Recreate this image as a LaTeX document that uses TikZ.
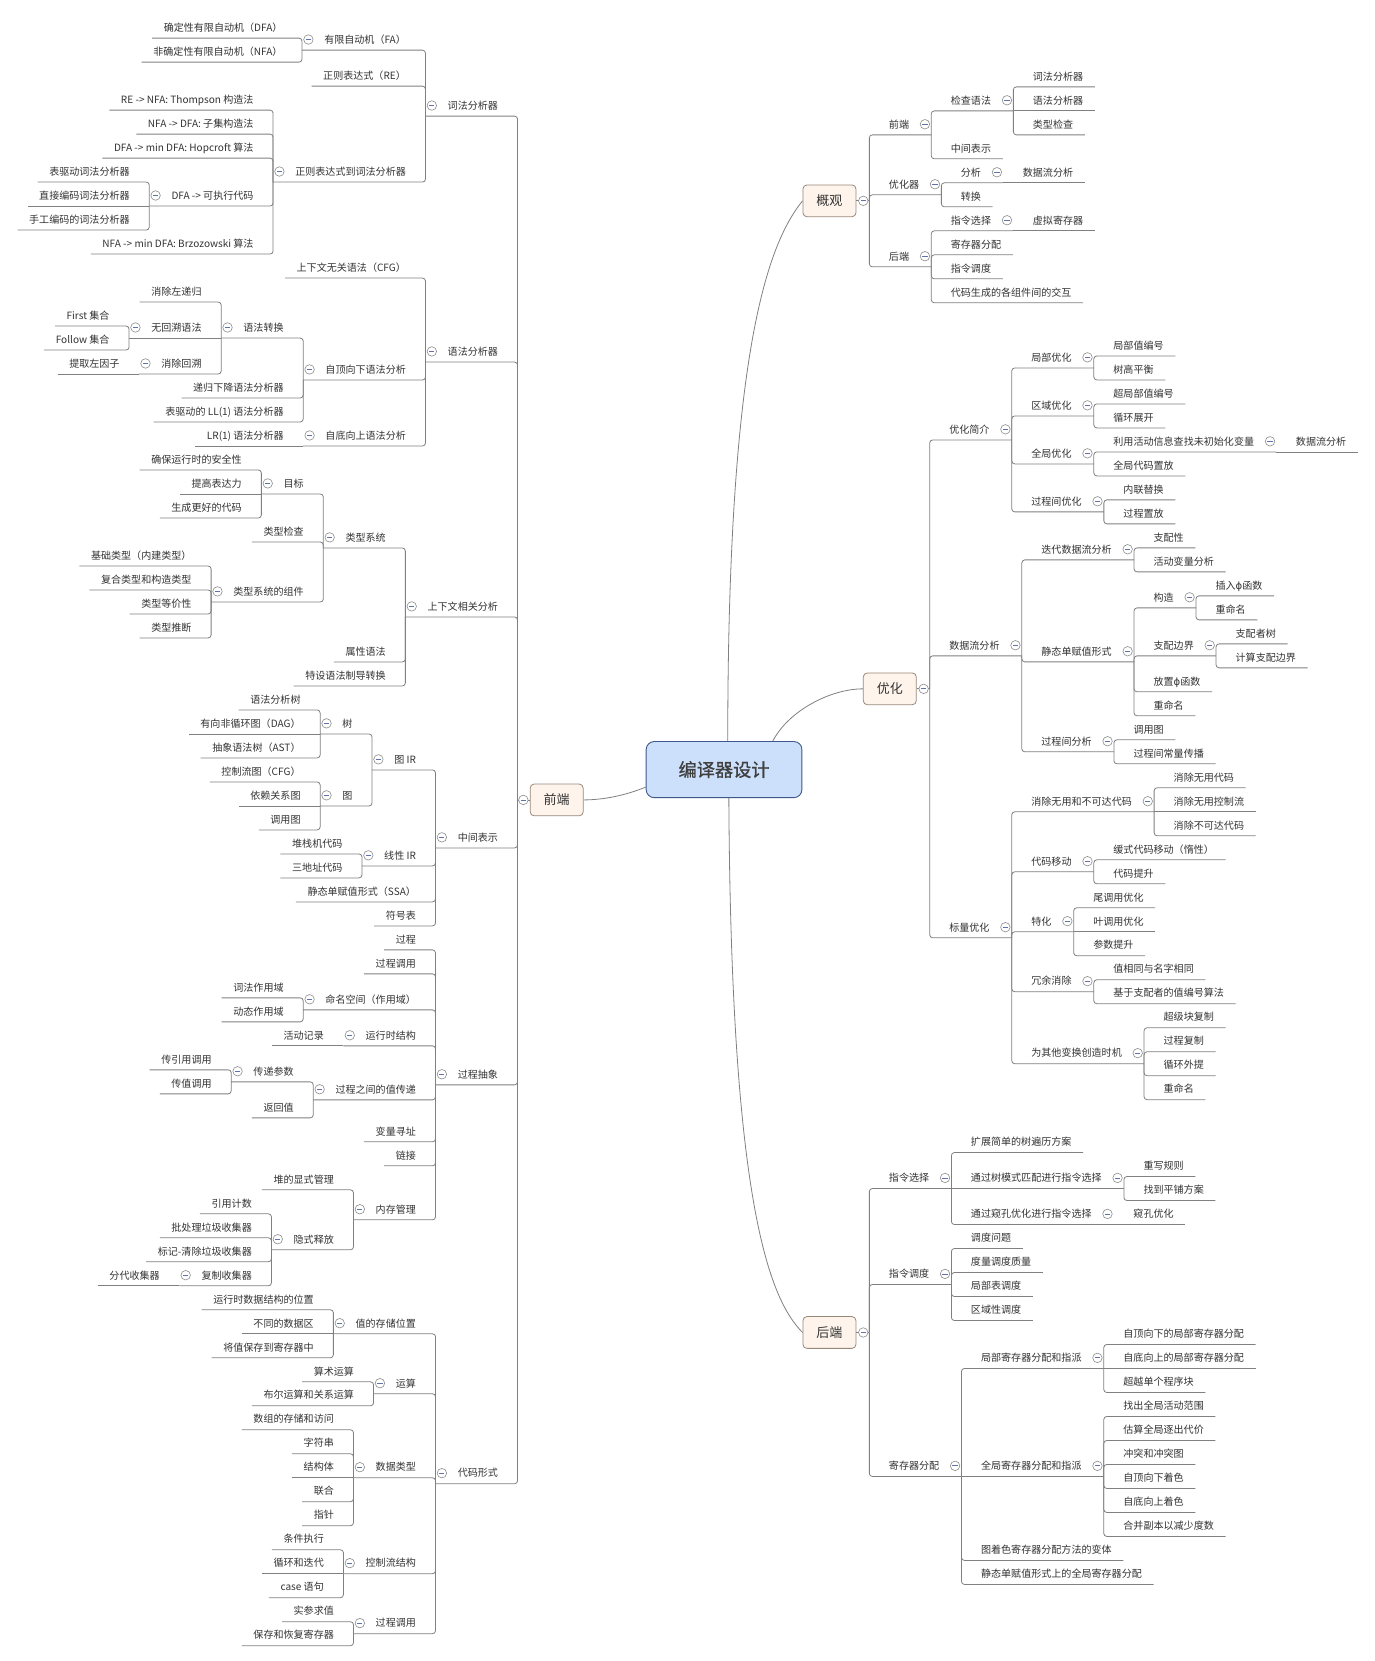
\documentclass[tikz,border=0pt]{standalone}
\usepackage{fontspec}
\setmainfont{Noto Sans CJK SC}
\newfontfamily\phifont{DejaVu Sans}
\newfontfamily\rootfont[FakeBold=1]{Noto Sans CJK SC}
\definecolor{linec}{RGB}{128,128,128}
\definecolor{textc}{RGB}{51,51,51}
\definecolor{rootfill}{RGB}{204,224,252}
\definecolor{rootdraw}{RGB}{62,88,138}
\definecolor{lonefill}{RGB}{254,244,236}
\definecolor{lonedraw}{RGB}{152,136,122}
\definecolor{iconc}{RGB}{95,115,170}
\definecolor{iconb}{RGB}{140,140,140}
\tikzset{
  conn/.style={draw=linec, line width=0.8pt, rounded corners=3pt},
  rootconn/.style={draw=linec, line width=0.8pt},
  txt/.style={inner sep=0pt, outer sep=0pt, text height=8pt, text depth=6.78pt, text=textc, font=\fontsize{10.05}{12}\selectfont},
  icon/.style={circle, draw=iconb, fill=white, line width=0.6pt, minimum size=9.5pt, inner sep=0pt,
    path picture={\draw[iconc, line width=0.8pt] ([xshift=-2.6pt]path picture bounding box.center) -- ([xshift=2.6pt]path picture bounding box.center);}},
  lonebox/.style={draw=lonedraw, fill=lonefill, rounded corners=4pt, line width=0.8pt, minimum width=53pt, minimum height=31.8pt, inner sep=0pt, text=textc, font=\fontsize{13}{15}\selectfont},
  rootbox/.style={draw=rootdraw, fill=rootfill, rounded corners=8pt, line width=0.9pt, minimum width=155.7pt, minimum height=56.1pt, inner sep=0pt, text={rgb,255:red,64;green,64;blue,64}, font=\rootfont\fontsize{18.2}{20}\selectfont},
}
\def\rowbase{26}
% left leaf (corner)
\newcommand\mmLA[4]{%
  \coordinate (tmp) at (0,{\rowbase+22.65*(#3)});
  \path (#2V |- tmp) ++(-18.5,3.6) node[txt,anchor=base east] (#1) {#4};
  \draw[conn] (#2V) |- ([xshift=-11.65pt]#1.south west);
}
% left leaf (straight)
\newcommand\mmLB[4]{%
  \coordinate (tmp) at (0,{\rowbase+22.65*(#3)});
  \path (#2V |- tmp) ++(-18.5,3.6) node[txt,anchor=base east] (#1) {#4};
  \draw[conn] (#2V) -- ([xshift=-11.65pt]#1.south west);
}
% left parent (corner)
\newcommand\mmLC[4]{%
  \coordinate (tmp) at (0,{\rowbase+22.65*(#3)});
  \path (#2V |- tmp) ++(-18.5,3.6) node[txt,anchor=base east] (#1) {#4};
  \coordinate (#1V) at ([xshift=-22.25pt]#1.south west);
  \draw[conn] (#2V) |- (#1V);
  \node[icon] at ([xshift=6.36pt,yshift=10.59pt]#1V) {};
}
% left parent (straight)
\newcommand\mmLD[4]{%
  \coordinate (tmp) at (0,{\rowbase+22.65*(#3)});
  \path (#2V |- tmp) ++(-18.5,3.6) node[txt,anchor=base east] (#1) {#4};
  \coordinate (#1V) at ([xshift=-22.25pt]#1.south west);
  \draw[conn] (#2V) -- (#1V);
  \node[icon] at ([xshift=6.36pt,yshift=10.59pt]#1V) {};
}
% right leaf (corner)
\newcommand\mmRA[4]{%
  \coordinate (tmp) at (0,{\rowbase+22.65*(#3)});
  \path (#2V |- tmp) ++(18.5,3.6) node[txt,anchor=base west] (#1) {#4};
  \draw[conn] (#2V) |- ([xshift=11.65pt]#1.south east);
}
% right leaf (straight)
\newcommand\mmRB[4]{%
  \coordinate (tmp) at (0,{\rowbase+22.65*(#3)});
  \path (#2V |- tmp) ++(18.5,3.6) node[txt,anchor=base west] (#1) {#4};
  \draw[conn] (#2V) -- ([xshift=11.65pt]#1.south east);
}
% right parent (corner)
\newcommand\mmRC[4]{%
  \coordinate (tmp) at (0,{\rowbase+22.65*(#3)});
  \path (#2V |- tmp) ++(18.5,3.6) node[txt,anchor=base west] (#1) {#4};
  \coordinate (#1V) at ([xshift=22.25pt]#1.south east);
  \draw[conn] (#2V) |- (#1V);
  \node[icon] at ([xshift=-6.36pt,yshift=10.59pt]#1V) {};
}
% right parent (straight)
\newcommand\mmRD[4]{%
  \coordinate (tmp) at (0,{\rowbase+22.65*(#3)});
  \path (#2V |- tmp) ++(18.5,3.6) node[txt,anchor=base west] (#1) {#4};
  \coordinate (#1V) at ([xshift=22.25pt]#1.south east);
  \draw[conn] (#2V) -- (#1V);
  \node[icon] at ([xshift=-6.36pt,yshift=10.59pt]#1V) {};
}
\begin{document}
\begin{tikzpicture}[x=1.0593pt,y=-1.0593pt]
\fill[white] (0,0) rectangle (1298,1568);
\useasboundingbox (0,0) rectangle (1298,1568);

% central and main topics
\node[rootbox] (root) at (683.5,726.5) {编译器设计};
\node[lonebox] (qd) at (525.5,{26+22.65*31.75+10}) {前端};
\node[lonebox] (gg) at (783,{72+22.65*4.75+10}) {概观};
\node[lonebox] (yh) at (840,{326+22.65*13.875+10}) {优化};
\node[lonebox] (hd) at (783,{1078+22.65*7.5+10}) {后端};

\draw[rootconn] ([xshift=3.7pt]root.north) .. controls (687,330) and (725,230) .. (gg.west);
\draw[rootconn] ([xshift=48.7pt]root.north) .. controls (745,670) and (785,650.3) .. (yh.west);
\draw[rootconn] ([xshift=4.8pt]root.south) .. controls (690,1130) and (725,1225) .. (hd.west);
\draw[rootconn] ([yshift=-17.5pt]root.west) .. controls (590,751) and (570,755) .. (qd.east);

\coordinate (qdV) at ([xshift=-12.2pt]qd.west);
\draw[conn] (qd.west) -- (qdV);
\node[icon] at ([xshift=-6.4pt]qd.west) {};
\foreach \b in {gg,yh,hd}{
  \coordinate (\b V) at ([xshift=13pt]\b.east);
  \draw[conn] (\b.east) -- (\b V);
  \node[icon] at ([xshift=6.9pt]\b.east) {};
}

% ================= LEFT: 前端 =================
\def\rowbase{26}
\mmLC{lex}{qd}{3.25}{词法分析器}
\mmLC{fa}{lex}{0.5}{有限自动机（FA）}
\mmLA{dfa}{fa}{0}{确定性有限自动机（DFA）}
\mmLA{nfa}{fa}{1}{非确定性有限自动机（NFA）}
\mmLA{re}{lex}{2}{正则表达式（RE）}
\mmLC{retolex}{lex}{6}{正则表达式到词法分析器}
\mmLA{thom}{retolex}{3}{RE -> NFA: Thompson 构造法}
\mmLA{subset}{retolex}{4}{NFA -> DFA: 子集构造法}
\mmLA{hop}{retolex}{5}{DFA -> min DFA: Hopcroft 算法}
\mmLC{dfacode}{retolex}{7}{DFA -> 可执行代码}
\mmLA{tbl}{dfacode}{6}{表驱动词法分析器}
\mmLB{direct}{dfacode}{7}{直接编码词法分析器}
\mmLA{hand}{dfacode}{8}{手工编码的词法分析器}
\mmLA{brz}{retolex}{9}{NFA -> min DFA: Brzozowski 算法}

\mmLC{parse}{qd}{13.5}{语法分析器}
\mmLA{cfg}{parse}{10}{上下文无关语法（CFG）}
\mmLC{topdown}{parse}{14.25}{自顶向下语法分析}
\mmLC{gtrans}{topdown}{12.5}{语法转换}
\mmLA{leftrec}{gtrans}{11}{消除左递归}
\mmLD{nobt}{gtrans}{12.5}{无回溯语法}
\mmLA{first}{nobt}{12}{First 集合}
\mmLA{follow}{nobt}{13}{Follow 集合}
\mmLC{elimbt}{gtrans}{14}{消除回溯}
\mmLB{leftfac}{elimbt}{14}{提取左因子}
\mmLA{recdesc}{topdown}{15}{递归下降语法分析器}
\mmLA{llone}{topdown}{16}{表驱动的 LL(1) 语法分析器}
\mmLC{bottomup}{parse}{17}{自底向上语法分析}
\mmLB{lrone}{bottomup}{17}{LR(1) 语法分析器}

\mmLC{csa}{qd}{24.125}{上下文相关分析}
\mmLC{tsys}{csa}{21.25}{类型系统}
\mmLC{goal}{tsys}{19}{目标}
\mmLA{safe}{goal}{18}{确保运行时的安全性}
\mmLB{expr}{goal}{19}{提高表达力}
\mmLA{better}{goal}{20}{生成更好的代码}
\mmLA{tcheck}{tsys}{21}{类型检查}
\mmLC{tcomp}{tsys}{23.5}{类型系统的组件}
\mmLA{basic}{tcomp}{22}{基础类型（内建类型）}
\mmLA{compound}{tcomp}{23}{复合类型和构造类型}
\mmLA{tequiv}{tcomp}{24}{类型等价性}
\mmLA{tinfer}{tcomp}{25}{类型推断}
\mmLA{attr}{csa}{26}{属性语法}
\mmLA{adhoc}{csa}{27}{特设语法制导转换}

\mmLC{ir}{qd}{33.75}{中间表示}
\mmLC{gir}{ir}{30.5}{图 IR}
\mmLC{tree}{gir}{29}{树}
\mmLA{ptree}{tree}{28}{语法分析树}
\mmLB{dag}{tree}{29}{有向非循环图（DAG）}
\mmLA{ast}{tree}{30}{抽象语法树（AST）}
\mmLC{graph}{gir}{32}{图}
\mmLA{cfgr}{graph}{31}{控制流图（CFG）}
\mmLB{dep}{graph}{32}{依赖关系图}
\mmLA{callg}{graph}{33}{调用图}
\mmLC{lir}{ir}{34.5}{线性 IR}
\mmLA{stack}{lir}{34}{堆栈机代码}
\mmLA{tac}{lir}{35}{三地址代码}
\mmLA{ssa}{ir}{36}{静态单赋值形式（SSA）}
\mmLA{symtab}{ir}{37}{符号表}

\mmLC{proc}{qd}{43.625}{过程抽象}
\mmLA{procedure}{proc}{38}{过程}
\mmLA{pcall}{proc}{39}{过程调用}
\mmLC{ns}{proc}{40.5}{命名空间（作用域）}
\mmLA{lexscope}{ns}{40}{词法作用域}
\mmLA{dynscope}{ns}{41}{动态作用域}
\mmLC{rts}{proc}{42}{运行时结构}
\mmLB{actrec}{rts}{42}{活动记录}
\mmLC{valpass}{proc}{44.25}{过程之间的值传递}
\mmLC{params}{valpass}{43.5}{传递参数}
\mmLA{byref}{params}{43}{传引用调用}
\mmLA{byval}{params}{44}{传值调用}
\mmLA{retval}{valpass}{45}{返回值}
\mmLA{varaddr}{proc}{46}{变量寻址}
\mmLA{linking}{proc}{47}{链接}
\mmLC{mem}{proc}{49.25}{内存管理}
\mmLA{heap}{mem}{48}{堆的显式管理}
\mmLC{implicit}{mem}{50.5}{隐式释放}
\mmLA{refcnt}{implicit}{49}{引用计数}
\mmLA{batch}{implicit}{50}{批处理垃圾收集器}
\mmLA{marksweep}{implicit}{51}{标记-清除垃圾收集器}
\mmLC{copyc}{implicit}{52}{复制收集器}
\mmLB{gencol}{copyc}{52}{分代收集器}

\mmLC{cform}{qd}{60.25}{代码形式}
\mmLC{storage}{cform}{54}{值的存储位置}
\mmLA{rtloc}{storage}{53}{运行时数据结构的位置}
\mmLB{dataarea}{storage}{54}{不同的数据区}
\mmLA{regsave}{storage}{55}{将值保存到寄存器中}
\mmLC{ops}{cform}{56.5}{运算}
\mmLA{arith}{ops}{56}{算术运算}
\mmLA{boolop}{ops}{57}{布尔运算和关系运算}
\mmLC{dtype}{cform}{60}{数据类型}
\mmLA{arr}{dtype}{58}{数组的存储和访问}
\mmLA{strg}{dtype}{59}{字符串}
\mmLB{strc}{dtype}{60}{结构体}
\mmLA{unn}{dtype}{61}{联合}
\mmLA{ptr}{dtype}{62}{指针}
\mmLC{ctrl}{cform}{64}{控制流结构}
\mmLA{cond}{ctrl}{63}{条件执行}
\mmLB{loop}{ctrl}{64}{循环和迭代}
\mmLA{casest}{ctrl}{65}{case 语句}
\mmLC{pcalltwo}{cform}{66.5}{过程调用}
\mmLA{argeval}{pcalltwo}{66}{实参求值}
\mmLA{saverest}{pcalltwo}{67}{保存和恢复寄存器}

% ================= RIGHT: 概观 =================
\def\rowbase{72}
\mmRC{gfe}{gg}{2}{前端}
\mmRC{chk}{gfe}{1}{检查语法}
\mmRA{glex}{chk}{0}{词法分析器}
\mmRB{gpar}{chk}{1}{语法分析器}
\mmRA{gtc}{chk}{2}{类型检查}
\mmRA{girr}{gfe}{3}{中间表示}
\mmRC{gopt}{gg}{4.5}{优化器}
\mmRC{ana}{gopt}{4}{分析}
\mmRB{gdfa}{ana}{4}{数据流分析}
\mmRA{trans}{gopt}{5}{转换}
\mmRC{gbe}{gg}{7.5}{后端}
\mmRC{isel}{gbe}{6}{指令选择}
\mmRB{vreg}{isel}{6}{虚拟寄存器}
\mmRA{ralloc}{gbe}{7}{寄存器分配}
\mmRA{isch}{gbe}{8}{指令调度}
\mmRA{inter}{gbe}{9}{代码生成的各组件间的交互}

% ================= RIGHT: 优化 =================
\def\rowbase{326}
\mmRC{intro}{yh}{3.5}{优化简介}
\mmRC{localo}{intro}{0.5}{局部优化}
\mmRA{lvn}{localo}{0}{局部值编号}
\mmRA{thb}{localo}{1}{树高平衡}
\mmRC{regional}{intro}{2.5}{区域优化}
\mmRA{svn}{regional}{2}{超局部值编号}
\mmRA{unroll}{regional}{3}{循环展开}
\mmRC{globalo}{intro}{4.5}{全局优化}
\mmRC{uninit}{globalo}{4}{利用活动信息查找未初始化变量}
\mmRB{udfa}{uninit}{4}{数据流分析}
\mmRA{gcp}{globalo}{5}{全局代码置放}
\mmRC{interp}{intro}{6.5}{过程间优化}
\mmRA{inl}{interp}{6}{内联替换}
\mmRA{pplace}{interp}{7}{过程置放}
\mmRC{dfanal}{yh}{12.5}{数据流分析}
\mmRC{iter}{dfanal}{8.5}{迭代数据流分析}
\mmRA{dom}{iter}{8}{支配性}
\mmRA{live}{iter}{9}{活动变量分析}
\mmRC{ssaf}{dfanal}{12.75}{静态单赋值形式}
\mmRC{build}{ssaf}{10.5}{构造}
\mmRA{insphi}{build}{10}{插入{\phifont ϕ}函数}
\mmRA{renone}{build}{11}{重命名}
\mmRC{domf}{ssaf}{12.5}{支配边界}
\mmRA{domtree}{domf}{12}{支配者树}
\mmRA{cdf}{domf}{13}{计算支配边界}
\mmRA{placephi}{ssaf}{14}{放置{\phifont ϕ}函数}
\mmRA{rentwo}{ssaf}{15}{重命名}
\mmRC{interan}{dfanal}{16.5}{过程间分析}
\mmRA{cgr}{interan}{16}{调用图}
\mmRA{icp}{interan}{17}{过程间常量传播}
\mmRC{scalar}{yh}{24.25}{标量优化}
\mmRC{dce}{scalar}{19}{消除无用和不可达代码}
\mmRA{dead}{dce}{18}{消除无用代码}
\mmRB{deadcf}{dce}{19}{消除无用控制流}
\mmRA{unreach}{dce}{20}{消除不可达代码}
\mmRC{cm}{scalar}{21.5}{代码移动}
\mmRA{lcm}{cm}{21}{缓式代码移动（惰性）}
\mmRA{hoist}{cm}{22}{代码提升}
\mmRC{spec}{scalar}{24}{特化}
\mmRA{tailc}{spec}{23}{尾调用优化}
\mmRB{leafc}{spec}{24}{叶调用优化}
\mmRA{ppromo}{spec}{25}{参数提升}
\mmRC{redund}{scalar}{26.5}{冗余消除}
\mmRA{vsame}{redund}{26}{值相同与名字相同}
\mmRA{dvnt}{redund}{27}{基于支配者的值编号算法}
\mmRC{enable}{scalar}{29.5}{为其他变换创造时机}
\mmRA{sbc}{enable}{28}{超级块复制}
\mmRA{pclone}{enable}{29}{过程复制}
\mmRA{unswitch}{enable}{30}{循环外提}
\mmRA{renthree}{enable}{31}{重命名}

% ================= RIGHT: 后端 =================
\def\rowbase{1078}
\mmRC{iseltwo}{hd}{1.5}{指令选择}
\mmRA{treewalk}{iseltwo}{0}{扩展简单的树遍历方案}
\mmRD{tpm}{iseltwo}{1.5}{通过树模式匹配进行指令选择}
\mmRA{rewrite}{tpm}{1}{重写规则}
\mmRA{tiling}{tpm}{2}{找到平铺方案}
\mmRC{peep}{iseltwo}{3}{通过窥孔优化进行指令选择}
\mmRB{peepopt}{peep}{3}{窥孔优化}
\mmRC{sched}{hd}{5.5}{指令调度}
\mmRA{sp}{sched}{4}{调度问题}
\mmRA{sq}{sched}{5}{度量调度质量}
\mmRA{lls}{sched}{6}{局部表调度}
\mmRA{rsch}{sched}{7}{区域性调度}
\mmRC{ra}{hd}{13.5}{寄存器分配}
\mmRC{lra}{ra}{9}{局部寄存器分配和指派}
\mmRA{tdl}{lra}{8}{自顶向下的局部寄存器分配}
\mmRB{bul}{lra}{9}{自底向上的局部寄存器分配}
\mmRA{beyond}{lra}{10}{超越单个程序块}
\mmRD{gra}{ra}{13.5}{全局寄存器分配和指派}
\mmRA{glr}{gra}{11}{找出全局活动范围}
\mmRA{spill}{gra}{12}{估算全局逐出代价}
\mmRA{interf}{gra}{13}{冲突和冲突图}
\mmRA{tdc}{gra}{14}{自顶向下着色}
\mmRA{buc}{gra}{15}{自底向上着色}
\mmRA{coal}{gra}{16}{合并副本以减少度数}
\mmRA{variant}{ra}{17}{图着色寄存器分配方法的变体}
\mmRA{ssara}{ra}{18}{静态单赋值形式上的全局寄存器分配}
\end{tikzpicture}
\end{document}
